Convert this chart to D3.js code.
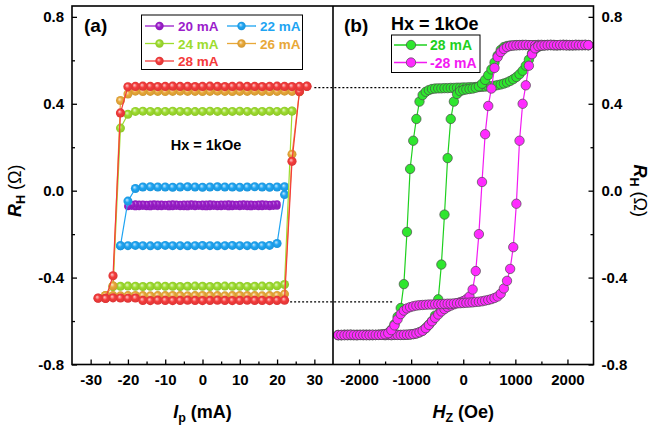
<!DOCTYPE html>
<html>
<head>
<meta charset="utf-8">
<script src="https://cdn.jsdelivr.net/npm/d3@7"></script>
<style>
  html, body { margin: 0; padding: 0; background: #fff; }
  svg { display: block; }
</style>
</head>
<body>
<svg id="chart" width="654" height="427"></svg>
<script>
// ---------------- data: (a) current-induced switching loops ----------------
const loopLabels = ["20 mA", "22 mA", "24 mA", "26 mA", "28 mA"];

// 20 mA loop, 1 mA steps
const ip20 = [-20,-19,-18,-17,-16,-15,-14,-13,-12,-11,-10,-9,-8,-7,-6,-5,-4,-3,-2,-1,
  0,1,2,3,4,5,6,7,8,9,10,11,12,13,14,15,16,17,18,19,20];
const rh20Up = [
  -0.073,-0.072,-0.074,-0.073,-0.072,-0.073,-0.074,-0.072,-0.073,-0.073,
  -0.072,-0.074,-0.073,-0.072,-0.073,-0.073,-0.074,-0.072,-0.073,-0.072,
  -0.073,-0.074,-0.073,-0.072,-0.073,-0.073,-0.072,-0.074,-0.073,-0.072,
  -0.073,-0.072,-0.073,-0.074,-0.072,-0.073,-0.073,-0.072,-0.073,-0.072,
  -0.071];
const rh20Down = [
  -0.061,-0.062,-0.063,-0.062,-0.061,-0.062,-0.063,-0.062,-0.062,-0.061,
  -0.062,-0.063,-0.062,-0.061,-0.062,-0.062,-0.063,-0.062,-0.061,-0.062,
  -0.062,-0.063,-0.062,-0.061,-0.062,-0.062,-0.063,-0.062,-0.061,-0.062,
  -0.063,-0.062,-0.062,-0.061,-0.062,-0.063,-0.062,-0.062,-0.061,-0.063,
  -0.070];

// 22 mA loop
const ip22 = [-22,-20,-18,-16,-14,-12,-10,-8,-6,-4,-2,0,2,4,6,8,10,12,14,16,18,20,22];
const rh22Up = [
  -0.254,-0.253,-0.252,-0.253,-0.254,-0.253,-0.252,-0.253,-0.253,-0.254,
  -0.253,-0.252,-0.253,-0.254,-0.253,-0.252,-0.253,-0.253,-0.254,-0.253,
  -0.252,-0.243,-0.018];
const rh22Down = [
  0.018,0.017,0.016,0.017,0.018,0.017,0.016,0.017,0.017,0.018,
  0.017,0.016,0.017,0.018,0.017,0.016,0.017,0.017,0.018,0.017,
  0.010,-0.048,-0.253];

// 24 mA loop
const ip24 = [-24,-22,-20,-18,-16,-14,-12,-10,-8,-6,-4,-2,0,2,4,6,8,10,12,14,16,18,20,22,24];
const rh24Up = [
  -0.441,-0.440,-0.439,-0.440,-0.441,-0.440,-0.439,-0.440,-0.440,-0.441,
  -0.440,-0.439,-0.440,-0.441,-0.440,-0.439,-0.440,-0.440,-0.441,-0.440,
  -0.439,-0.440,-0.438,-0.432,0.366];
const rh24Down = [
  0.367,0.366,0.365,0.366,0.365,0.364,0.365,0.366,0.365,0.364,
  0.365,0.366,0.365,0.364,0.365,0.365,0.366,0.365,0.364,0.365,
  0.366,0.365,0.352,0.288,-0.440];

// 26 mA loop
const ip26 = [-26,-24,-22,-20,-18,-16,-14,-12,-10,-8,-6,-4,-2,0,2,4,6,8,10,12,14,16,18,20,22,24,26];
const rh26Up = [
  -0.482,-0.483,-0.484,-0.483,-0.482,-0.483,-0.484,-0.483,-0.483,-0.482,
  -0.483,-0.484,-0.483,-0.482,-0.483,-0.483,-0.484,-0.483,-0.482,-0.483,
  -0.483,-0.484,-0.483,-0.482,-0.476,0.168,0.455];
const rh26Down = [
  0.456,0.457,0.458,0.457,0.456,0.457,0.458,0.457,0.457,0.456,
  0.457,0.458,0.457,0.456,0.457,0.457,0.458,0.457,0.456,0.457,
  0.457,0.456,0.458,0.445,0.415,-0.438,-0.482];

// 28 mA loop
const ip28 = [-28,-26,-24,-22,-20,-18,-16,-14,-12,-10,-8,-6,-4,-2,0,2,4,6,8,10,12,14,16,18,20,22,24,26,28];
const rh28Up = [
  -0.494,-0.495,-0.493,-0.494,-0.495,-0.494,-0.505,-0.506,-0.504,-0.505,
  -0.506,-0.505,-0.504,-0.505,-0.506,-0.505,-0.504,-0.505,-0.506,-0.505,
  -0.504,-0.505,-0.505,-0.506,-0.505,-0.504,0.135,0.456,0.480];
const rh28Down = [
  0.481,0.480,0.479,0.480,0.481,0.480,0.479,0.480,0.480,0.481,
  0.480,0.479,0.480,0.481,0.480,0.479,0.480,0.480,0.481,0.480,
  0.479,0.480,0.481,0.480,0.478,0.358,-0.392,-0.496,-0.495];

// ---------------- data: (b) field sweeps at +/-28 mA ----------------
const fieldLabels = ["28 mA", "-28 mA"];
const fieldOe = [
  -2400,-2340,-2280,-2220,-2160,-2100,-2040,-1980,-1920,-1860,
  -1800,-1740,-1680,-1620,-1560,-1500,-1440,-1380,-1320,-1260,
  -1200,-1140,-1080,-1020,-960,-900,-840,-780,-720,-660,
  -600,-540,-480,-420,-360,-300,-240,-180,-120,-60,
  0,60,120,180,240,300,360,420,480,540,
  600,660,720,780,840,900,960,1020,1080,1140,
  1200,1260,1320,1380,1440,1500,1560,1620,1680,1740,
  1800,1860,1920,1980,2040,2100,2160,2220,2280,2340,
  2400];
// +28 mA, sweep from +H to -H (listed in increasing field)
const rhPosDown = [
  -0.664,-0.665,-0.663,-0.664,-0.665,-0.664,-0.663,-0.664,-0.665,-0.664,
  -0.663,-0.664,-0.664,-0.663,-0.662,-0.660,-0.655,-0.640,-0.615,-0.580,
  -0.540,-0.430,-0.190,0.100,0.230,0.330,0.410,0.440,0.455,0.463,
  0.468,0.470,0.471,0.471,0.472,0.472,0.473,0.473,0.474,0.474,
  0.475,0.475,0.476,0.476,0.477,0.477,0.478,0.479,0.480,0.481,
  0.483,0.486,0.489,0.493,0.498,0.505,0.513,0.523,0.536,0.552,
  0.575,0.603,0.632,0.652,0.662,0.667,0.669,0.670,0.670,0.671,
  0.670,0.670,0.671,0.670,0.669,0.670,0.671,0.670,0.670,0.671,
  0.670];
// +28 mA, sweep from -H to +H
const rhPosUp = [
  -0.665,-0.664,-0.664,-0.665,-0.663,-0.664,-0.665,-0.664,-0.664,-0.663,
  -0.664,-0.665,-0.664,-0.664,-0.663,-0.664,-0.664,-0.665,-0.664,-0.663,
  -0.664,-0.664,-0.663,-0.662,-0.660,-0.657,-0.652,-0.644,-0.632,-0.617,
  -0.600,-0.575,-0.500,-0.340,-0.110,0.150,0.330,0.410,0.445,0.458,
  0.463,0.466,0.468,0.470,0.474,0.480,0.492,0.510,0.532,0.558,
  0.590,0.622,0.648,0.661,0.666,0.668,0.669,0.670,0.670,0.671,
  0.670,0.670,0.669,0.670,0.671,0.670,0.670,0.671,0.670,0.669,
  0.670,0.670,0.671,0.670,0.670,0.669,0.670,0.671,0.670,0.670,
  0.670];
// -28 mA, sweep from +H to -H
const rhNegDown = [
  -0.664,-0.665,-0.664,-0.663,-0.664,-0.665,-0.664,-0.664,-0.663,-0.664,
  -0.665,-0.664,-0.664,-0.663,-0.664,-0.665,-0.664,-0.664,-0.663,-0.664,
  -0.664,-0.663,-0.663,-0.662,-0.660,-0.657,-0.652,-0.645,-0.633,-0.618,
  -0.601,-0.585,-0.570,-0.556,-0.545,-0.536,-0.529,-0.523,-0.518,-0.513,
  -0.508,-0.500,-0.487,-0.455,-0.370,-0.200,0.040,0.260,0.390,0.470,
  0.565,0.615,0.638,0.652,0.661,0.666,0.668,0.669,0.670,0.670,
  0.671,0.670,0.670,0.669,0.670,0.671,0.670,0.670,0.671,0.670,
  0.669,0.670,0.670,0.671,0.670,0.670,0.669,0.670,0.671,0.670,
  0.670];
// -28 mA, sweep from -H to +H
const rhNegUp = [
  -0.665,-0.664,-0.665,-0.664,-0.663,-0.664,-0.665,-0.664,-0.664,-0.665,
  -0.664,-0.663,-0.664,-0.664,-0.663,-0.661,-0.656,-0.642,-0.620,-0.592,
  -0.568,-0.552,-0.542,-0.536,-0.532,-0.529,-0.527,-0.526,-0.525,-0.524,
  -0.524,-0.523,-0.522,-0.522,-0.521,-0.520,-0.520,-0.519,-0.518,-0.518,
  -0.517,-0.516,-0.515,-0.514,-0.512,-0.511,-0.509,-0.506,-0.503,-0.499,
  -0.494,-0.487,-0.474,-0.450,-0.415,-0.360,-0.260,-0.060,0.230,0.400,
  0.485,0.575,0.628,0.655,0.665,0.668,0.669,0.670,0.671,0.670,
  0.670,0.671,0.670,0.669,0.670,0.670,0.671,0.670,0.670,0.671,
  0.670];

// axis ticks
const rhTicks = [-0.8, -0.4, 0, 0.4, 0.8];
const rhMinorTicks = [-0.6, -0.2, 0.2, 0.6];
const ipTicks = [-30, -20, -10, 0, 10, 20, 30];
const ipMinorTicks = [-25, -15, -5, 5, 15, 25];
const hzTicks = [-2000, -1000, 0, 1000, 2000];
const hzMinorTicks = [-1500, -500, 500, 1500];

// ---------------- styling ----------------
const loopColors = ["#9b1dcb", "#1ea4f2", "#9ddc2e", "#e8a838", "#f43b3b"];
const fieldColors = { pos: "#2ee62e", posLine: "#1ed01e", neg: "#ff2bff", negLine: "#f21af2" };
const FONT = "'Liberation Sans', Arial, Helvetica, sans-serif";

// ---------------- layout ----------------
const svg = d3.select("#chart");
const plotTop = 6, plotBottom = 364.5;
const leftX0 = 72, midX = 333, rightX1 = 593.5;

const y = d3.scaleLinear().domain([-0.8, 0.85]).range([plotBottom, plotTop]);
const xIp = d3.scaleLinear().domain([-35, 35]).range([leftX0, midX]);
const xHz = d3.scaleLinear().domain([-2500, 2500]).range([midX, rightX1]);

// gradient "ball" fills for the loop markers
const defs = svg.append("defs");
loopColors.forEach((c, i) => {
  const g = defs.append("radialGradient").attr("id", "ball" + i)
    .attr("cx", "50%").attr("cy", "50%").attr("r", "55%")
    .attr("fx", "38%").attr("fy", "35%");
  g.append("stop").attr("offset", "0%").attr("stop-color", d3.interpolateRgb(c, "#ffffff")(0.75));
  g.append("stop").attr("offset", "45%").attr("stop-color", c);
  g.append("stop").attr("offset", "100%").attr("stop-color", d3.color(c).darker(0.35));
});

// ---------------- axes ----------------
function styleAxis(g, size) {
  g.select(".domain").remove();
  g.selectAll(".tick line").attr("stroke", "#000").attr("stroke-width", 1.3);
  g.selectAll(".tick text").attr("fill", "#000")
    .attr("font-family", FONT).attr("font-size", size).attr("font-weight", "bold");
}
const fmtR = d => d.toFixed(1);

svg.append("g").attr("transform", `translate(${leftX0},0)`)
  .call(d3.axisLeft(y).tickValues(rhTicks).tickSize(-5).tickPadding(8).tickFormat(fmtR))
  .call(g => styleAxis(g, 15));
svg.append("g").attr("transform", `translate(${leftX0},0)`)
  .call(d3.axisLeft(y).tickValues(rhMinorTicks).tickSize(-3).tickFormat(""))
  .call(g => styleAxis(g, 15));
svg.append("g").attr("transform", `translate(${rightX1},0)`)
  .call(d3.axisRight(y).tickValues(rhTicks).tickSize(-5).tickPadding(8).tickFormat(fmtR))
  .call(g => styleAxis(g, 15));
svg.append("g").attr("transform", `translate(${rightX1},0)`)
  .call(d3.axisRight(y).tickValues(rhMinorTicks).tickSize(-3).tickFormat(""))
  .call(g => styleAxis(g, 15));

svg.append("g").attr("transform", `translate(0,${plotBottom})`)
  .call(d3.axisBottom(xIp).tickValues(ipTicks).tickSize(-5).tickPadding(10).tickFormat(d => String(d)))
  .call(g => styleAxis(g, 15));
svg.append("g").attr("transform", `translate(0,${plotBottom})`)
  .call(d3.axisBottom(xIp).tickValues(ipMinorTicks).tickSize(-3).tickFormat(""))
  .call(g => styleAxis(g, 15));
svg.append("g").attr("transform", `translate(0,${plotBottom})`)
  .call(d3.axisBottom(xHz).tickValues(hzTicks).tickSize(-5).tickPadding(10).tickFormat(d => String(d)))
  .call(g => styleAxis(g, 15));
svg.append("g").attr("transform", `translate(0,${plotBottom})`)
  .call(d3.axisBottom(xHz).tickValues(hzMinorTicks).tickSize(-3).tickFormat(""))
  .call(g => styleAxis(g, 15));

// ---------------- (a) loops ----------------
const loops = [
  { ip: ip20, up: rh20Up, down: rh20Down, r: 3.6 },
  { ip: ip22, up: rh22Up, down: rh22Down, r: 4.5 },
  { ip: ip24, up: rh24Up, down: rh24Down, r: 4.5 },
  { ip: ip26, up: rh26Up, down: rh26Down, r: 4.5 },
  { ip: ip28, up: rh28Up, down: rh28Down, r: 4.6 }
];
const lineIp = d3.line().x(d => xIp(d[0])).y(d => y(d[1]));
const gA = svg.append("g");
loops.forEach((L, i) => {
  const rev = L.ip.slice().reverse();
  const pts = L.ip.map((v, k) => [v, L.up[k]]).concat(rev.map((v, k) => [v, L.down[k]]));
  gA.append("path").attr("d", lineIp(pts)).attr("fill", "none")
    .attr("stroke", loopColors[i]).attr("stroke-width", 1.2);
  gA.selectAll(null).data(pts).enter().append("circle")
    .attr("cx", d => xIp(d[0])).attr("cy", d => y(d[1])).attr("r", L.r)
    .attr("fill", `url(#ball${i})`);
});

// ---------------- (b) field sweeps ----------------
const sweeps = [
  { rh: rhPosDown, fill: fieldColors.pos, line: fieldColors.posLine },
  { rh: rhPosUp, fill: fieldColors.pos, line: fieldColors.posLine },
  { rh: rhNegDown, fill: fieldColors.neg, line: fieldColors.negLine },
  { rh: rhNegUp, fill: fieldColors.neg, line: fieldColors.negLine }
];
const lineHz = d3.line().x(d => xHz(d[0])).y(d => y(d[1]));
const gB = svg.append("g");
sweeps.forEach(S => {
  const pts = fieldOe.map((h, k) => [h, S.rh[k]]);
  gB.append("path").attr("d", lineHz(pts)).attr("fill", "none")
    .attr("stroke", S.line).attr("stroke-width", 1.2);
  gB.selectAll(null).data(pts).enter().append("circle")
    .attr("cx", d => xHz(d[0])).attr("cy", d => y(d[1])).attr("r", 4.7)
    .attr("fill", S.fill).attr("stroke", "#4a4a4a").attr("stroke-width", 0.7);
});

// dotted guides linking the saturated 28 mA levels
const guides = [
  { ip: 30, hz: -800, rh: 0.474 },
  { ip: 23.5, hz: -1330, rh: -0.512 }
];
guides.forEach(g => {
  svg.append("line")
    .attr("x1", xIp(g.ip)).attr("x2", xHz(g.hz))
    .attr("y1", y(g.rh)).attr("y2", y(g.rh))
    .attr("stroke", "#000").attr("stroke-width", 1.3).attr("stroke-dasharray", "2,2");
});

// ---------------- frame ----------------
svg.append("rect").attr("x", leftX0).attr("y", plotTop)
  .attr("width", rightX1 - leftX0).attr("height", plotBottom - plotTop)
  .attr("fill", "none").attr("stroke", "#000").attr("stroke-width", 1.6);
svg.append("line").attr("x1", midX).attr("x2", midX).attr("y1", plotTop).attr("y2", plotBottom)
  .attr("stroke", "#000").attr("stroke-width", 1.6);

// ---------------- legends ----------------
const legA = svg.append("g");
legA.append("rect").attr("x", 141.5).attr("y", 15).attr("width", 161).attr("height", 54.5)
  .attr("fill", "#fff").attr("stroke", "#000").attr("stroke-width", 1);
const legAPos = [[145, 26], [227, 26], [145, 43.5], [227, 43.5], [145, 61]];
loopLabels.forEach((lab, i) => {
  const [lx, ly] = legAPos[i];
  legA.append("line").attr("x1", lx).attr("x2", lx + 29).attr("y1", ly).attr("y2", ly)
    .attr("stroke", loopColors[i]).attr("stroke-width", 1.3);
  legA.append("circle").attr("cx", lx + 14.5).attr("cy", ly).attr("r", 4.2)
    .attr("fill", `url(#ball${i})`);
  legA.append("text").attr("x", lx + 33).attr("y", ly + 5)
    .attr("font-family", FONT).attr("font-size", 13.5).attr("font-weight", "bold")
    .attr("fill", loopColors[i]).text(lab);
});

const legB = svg.append("g");
legB.append("rect").attr("x", 391.5).attr("y", 35).attr("width", 88.5).attr("height", 37.5)
  .attr("fill", "#fff").attr("stroke", "#000").attr("stroke-width", 1);
const legBStyle = [
  { fill: fieldColors.pos, line: fieldColors.posLine, y: 45 },
  { fill: fieldColors.neg, line: fieldColors.negLine, y: 62.5 }
];
fieldLabels.forEach((lab, i) => {
  const s = legBStyle[i];
  legB.append("line").attr("x1", 394).attr("x2", 427).attr("y1", s.y).attr("y2", s.y)
    .attr("stroke", s.line).attr("stroke-width", 1.3);
  legB.append("circle").attr("cx", 411).attr("cy", s.y).attr("r", 4.7)
    .attr("fill", s.fill).attr("stroke", "#4a4a4a").attr("stroke-width", 0.7);
  legB.append("text").attr("x", 430).attr("y", s.y + 5)
    .attr("font-family", FONT).attr("font-size", 14).attr("font-weight", "bold")
    .attr("fill", s.line).text(lab);
});

// ---------------- annotations ----------------
function label(x, yy, txt, size, anchor) {
  svg.append("text").attr("x", x).attr("y", yy)
    .attr("font-family", FONT).attr("font-size", size).attr("font-weight", "bold")
    .attr("text-anchor", anchor || "start").attr("fill", "#000").text(txt);
}
label(84, 32, "(a)", 19);
label(344, 32, "(b)", 19);
label(206, 150, "Hx = 1kOe", 14.5, "middle");
label(391, 29.5, "Hx = 1kOe", 18);

// axis titles with subscripts
function title(transform, main, sub, rest, restBold) {
  const t = svg.append("text").attr("transform", transform).attr("text-anchor", "middle")
    .attr("font-family", FONT).attr("font-size", 18).attr("fill", "#000");
  t.append("tspan").attr("font-style", "italic").attr("font-weight", "bold").text(main);
  t.append("tspan").attr("font-size", 12.5).attr("font-weight", "bold").attr("dy", 4).text(sub);
  t.append("tspan").attr("dy", -4).attr("font-weight", restBold ? "bold" : "normal").text(rest);
}
title(`translate(${(leftX0 + midX) / 2},418)`, "I", "p", " (mA)", true);
title(`translate(${(midX + rightX1) / 2},418)`, "H", "Z", " (Oe)", true);
title(`translate(21,${y(0)}) rotate(-90)`, "R", "H", " (\u03A9)", false);
title(`translate(634,${y(0)}) rotate(90)`, "R", "H", " (\u03A9)", false);
</script>
</body>
</html>
